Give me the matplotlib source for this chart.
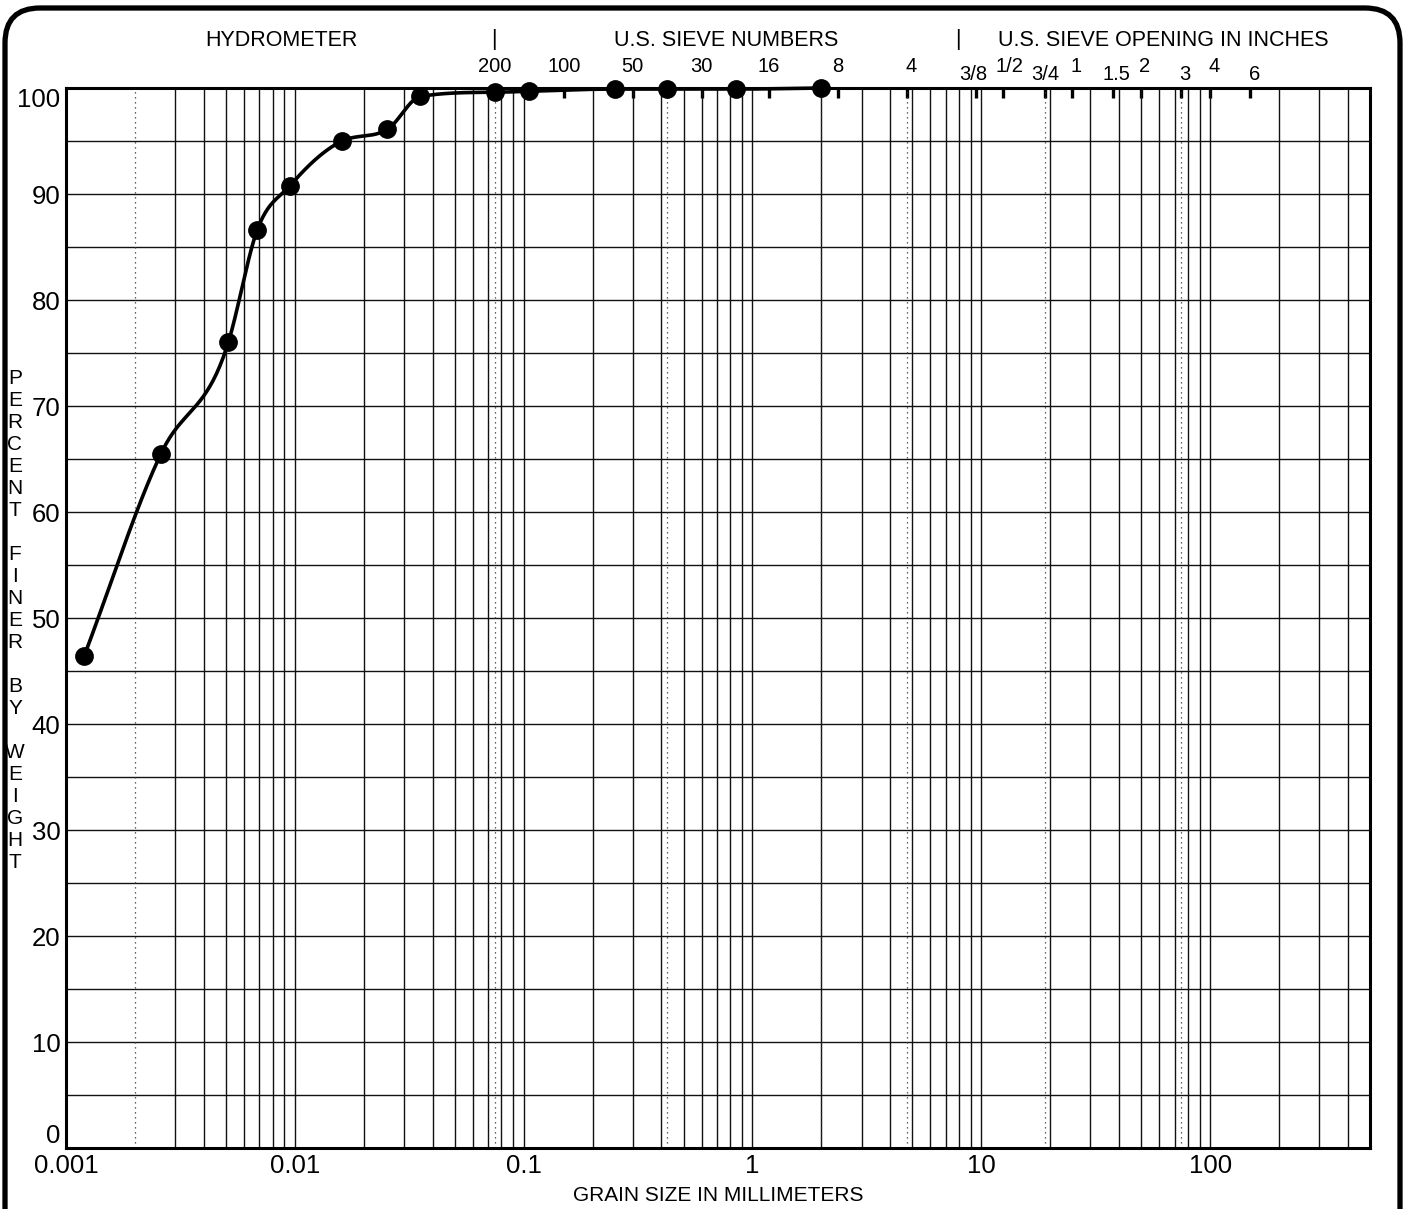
"""Grain size distribution chart (hydrometer + sieve analysis)."""

import matplotlib.pyplot as plt
import numpy as np
from matplotlib.patches import FancyBboxPatch
from matplotlib.ticker import FixedLocator, NullFormatter, NullLocator

plt.rcParams["font.family"] = ["Liberation Sans", "DejaVu Sans"]

# measured points: hydrometer first, then sieves
grain_size_mm = [0.0012, 0.0026, 0.00512, 0.00685, 0.00955, 0.0161, 0.0254,
                 0.0354, 0.075, 0.106, 0.25, 0.425, 0.85, 2.0]
percent_finer = [46.4, 65.5, 76.0, 86.6, 90.8, 95.0, 96.1,
                 99.2, 99.6, 99.7, 99.9, 99.9, 99.9, 100.0]

x_ticks = [0.001, 0.01, 0.1, 1, 10, 100]
x_tick_labels = ["0.001", "0.01", "0.1", "1", "10", "100"]
y_ticks = list(range(0, 101, 10))

# top scale: sieve numbers and sieve openings in inches
sieve_sizes_mm = [0.075, 0.15, 0.3, 0.6, 1.18, 2.36, 4.75,
                  9.5, 12.5, 19.0, 25.0, 37.5, 50.0, 75.0, 100.0, 150.0]
sieve_labels = ["200", "100", "50", "30", "16", "8", "4",
                "3/8", "1/2", "3/4", "1", "1.5", "2", "3", "4", "6"]
# pixel offsets of each label from its tick (staggered for inch sizes)
label_rise = [21, 21, 21, 21, 21, 21, 21,
              14, 21, 14, 21, 14, 21, 14, 21, 13]
label_shift = [0, 0, 0, 0, 0, 0, 4,
               -3, 6, 0, 4, 4, 3, 3, 4, 4]

# dotted boundary lines (clay/silt, #200, #40, #10, #4, 3/4", 3")
boundaries_mm = [0.002, 0.075, 0.425, 2.0, 4.75, 19.0, 75.0]

X_MIN, X_MAX = 0.001, 500

W, H = 1404, 1209


def smooth_curve(xs, ys, n=40):
    """Monotone cubic (Fritsch-Carlson) through the points, in log-x."""
    lx = np.log10(xs)
    ys = np.asarray(ys, float)
    h = np.diff(lx)
    d = np.diff(ys) / h
    m = np.gradient(ys, lx)
    for k in range(len(d)):
        if d[k] == 0:
            m[k] = m[k + 1] = 0
            continue
        a, b = m[k] / d[k], m[k + 1] / d[k]
        s = a * a + b * b
        if s > 9:
            tau = 3 / np.sqrt(s)
            m[k], m[k + 1] = tau * a * d[k], tau * b * d[k]
    out_x, out_y = [], []
    t = np.linspace(0, 1, n, endpoint=False)
    h00 = 2 * t**3 - 3 * t**2 + 1
    h10 = t**3 - 2 * t**2 + t
    h01 = -2 * t**3 + 3 * t**2
    h11 = t**3 - t**2
    for i in range(len(lx) - 1):
        out_x.append(lx[i] + t * h[i])
        out_y.append(h00 * ys[i] + h10 * h[i] * m[i]
                     + h01 * ys[i + 1] + h11 * h[i] * m[i + 1])
    out_x.append([lx[-1]])
    out_y.append([ys[-1]])
    return 10 ** np.concatenate(out_x), np.concatenate(out_y)


fig = plt.figure(figsize=(W / 100, H / 100), dpi=100)
ax = fig.add_axes([66 / W, 1 - 1148 / H, (1370 - 66) / W, (1148 - 88) / H])

ax.set_xscale("log")
ax.set_xlim(X_MIN, X_MAX)
ax.set_ylim(0, 100)

# grid: every 1-9 subdivision of each decade, no solid line at 0.002
minor = [m * 10.0**e for e in range(-3, 3) for m in range(2, 10)
         if m * 10.0**e <= X_MAX and not np.isclose(m * 10.0**e, 0.002)]
ax.xaxis.set_major_locator(FixedLocator(x_ticks))
ax.xaxis.set_minor_locator(FixedLocator(minor))
ax.xaxis.set_minor_formatter(NullFormatter())
ax.set_xticklabels(x_tick_labels)
ax.yaxis.set_major_locator(FixedLocator(y_ticks))
ax.yaxis.set_minor_locator(FixedLocator(list(range(5, 100, 10))))
ax.grid(True, which="both", color="#111111", lw=1.0)
ax.set_axisbelow(True)
ax.tick_params(which="both", length=0, labelsize=18.5)
ax.tick_params(axis="x", pad=4)
ax.tick_params(axis="y", pad=4)
for s in ax.spines.values():
    s.set_linewidth(2.2)

# keep the end labels inside the frame, as on the sheet
ylabels = ax.get_yticklabels()
ylabels[0].set_verticalalignment("bottom")
ylabels[-1].set_verticalalignment("top")

for b in boundaries_mm:
    ax.axvline(b, color="#333333", lw=0.9, ls=(0, (1, 3)))

cx, cy = smooth_curve(grain_size_mm, percent_finer)
ax.plot(cx, cy, color="black", lw=2.6, clip_on=False, zorder=4)
ax.plot(grain_size_mm, percent_finer, "o", color="black", ms=12.5,
        clip_on=False, zorder=5)

ax.set_xlabel("GRAIN SIZE IN MILLIMETERS", fontsize=15, labelpad=6)

# top sieve scale
ax2 = ax.twiny()
ax2.set_xscale("log")
ax2.set_xlim(X_MIN, X_MAX)
ax2.xaxis.set_major_locator(FixedLocator(sieve_sizes_mm))
ax2.xaxis.set_major_formatter(NullFormatter())
ax2.xaxis.set_minor_locator(NullLocator())
ax2.tick_params(axis="x", direction="in", length=7.5, width=2.4, color="black")
for s in ax2.spines.values():
    s.set_visible(False)
ax.set_zorder(2)
ax.patch.set_visible(False)
ax2.set_zorder(1)

for size, lab, rise, shift in zip(sieve_sizes_mm, sieve_labels, label_rise, label_shift):
    ax.annotate(lab, xy=(size, 1), xycoords=("data", "axes fraction"),
                xytext=(shift, rise), textcoords="offset pixels",
                ha="center", va="center", fontsize=14.5, annotation_clip=False)

# section headers
fig.text(281 / W, 1 - 40 / H, "HYDROMETER", ha="center", va="center", fontsize=15.5)
fig.text(726 / W, 1 - 40 / H, "U.S. SIEVE NUMBERS", ha="center", va="center", fontsize=15.5)
fig.text(1163 / W, 1 - 40 / H, "U.S. SIEVE OPENING IN INCHES", ha="center",
         va="center", fontsize=15.5)
for sx in (494, 958):
    fig.text(sx / W, 1 - 39 / H, "|", ha="center", va="center", fontsize=15.5)

# stacked y label
fig.text(15 / W, 1 - 620 / H, "\n".join("PERCENT FINER BY WEIGHT"),
         ha="center", va="center", fontsize=15, linespacing=1.2)

# rounded frame around the sheet
frame = FancyBboxPatch((0.05, -1.0), 13.95, 13.01,
                       boxstyle="round,pad=0,rounding_size=0.35",
                       transform=fig.dpi_scale_trans, fill=False,
                       lw=3.8, ec="black", clip_on=False)
fig.add_artist(frame)

fig.savefig("out.png", dpi=100)
